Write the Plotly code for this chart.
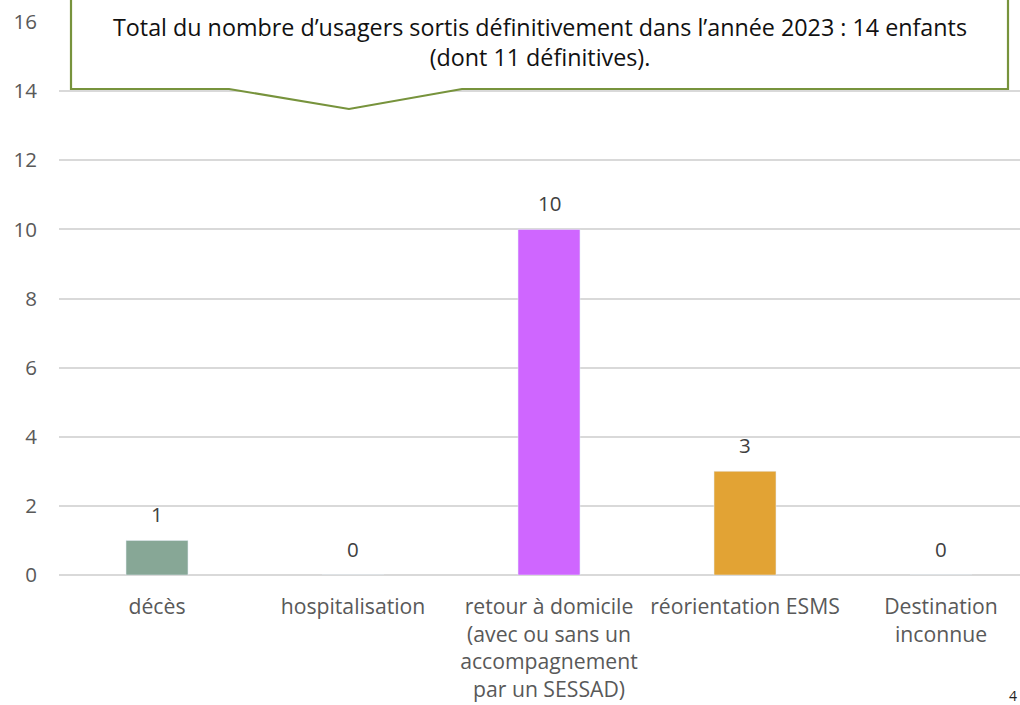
import plotly.graph_objects as go

# Destinations of children leaving the service in 2023
categories = [
    "décès",
    "hospitalisation",
    "retour à domicile<br>(avec ou sans un<br>accompagnement<br>par un SESSAD)",
    "réorientation ESMS",
    "Destination<br>inconnue",
]
values = [1, 0, 10, 3, 0]
bar_colors = ["#87A796", "#CF66FF", "#CF66FF", "#E2A334", "#E2A334"]
y_ticks = [0, 2, 4, 6, 8, 10, 12, 14, 16]
callout_text = ("Total du nombre d’usagers sortis définitivement dans l’année 2023 : 14 enfants"
                "<br>(dont 11 définitives).")

W, H = 1020, 705
L, R, T, B = 59, 0, 22, 130
PW, PH = W - L - R, H - T - B
FONT = "Open Sans"


def px_x(px):
    return (px - L) / PW


def px_y(py):
    return (H - B - py) / PH


xs = list(range(len(categories)))
fig = go.Figure(go.Bar(
    x=xs, y=values, marker_color=bar_colors, width=0.316,
    hoverinfo="skip",
))

# value labels above each bar
for i, v in enumerate(values):
    fig.add_annotation(x=i, y=v, text=str(v), showarrow=False, yanchor="bottom",
                       yshift=10, font=dict(family=FONT, size=20.5, color="#404040"))

# callout box with a downward pointer
pts = [(71, -5), (71, 89), (229, 89), (349, 109), (462, 89), (1008, 89), (1008, -5)]
path = "M " + " L ".join(f"{px_x(a):.5f},{px_y(b):.5f}" for a, b in pts) + " Z"
fig.add_shape(type="path", xref="paper", yref="paper", path=path,
              fillcolor="white", line=dict(color="#77933C", width=2.2), layer="above")
fig.add_annotation(xref="paper", yref="paper", x=px_x(540), y=px_y(41.5),
                   text=callout_text, showarrow=False, xanchor="center", yanchor="middle",
                   align="center", font=dict(family=FONT, size=23.3, color="#111111"))

# page number at the corner
fig.add_annotation(xref="paper", yref="paper", x=px_x(1019), y=px_y(695),
                   text="4", showarrow=False, xanchor="right", yanchor="middle",
                   font=dict(family=FONT, size=14, color="#222222"))

fig.update_layout(
    width=W, height=H,
    margin=dict(l=L, r=R, t=T, b=B, pad=0),
    paper_bgcolor="white", plot_bgcolor="white",
    showlegend=False,
    xaxis=dict(
        tickmode="array", tickvals=xs, ticktext=categories,
        range=[-0.5, -0.5 + PW / 196.0],
        showgrid=False, zeroline=False, showline=False, ticks="",
        tickfont=dict(family=FONT, size=21.2, color="#595959"),
        ticklabelstandoff=17, fixedrange=True,
    ),
    yaxis=dict(
        range=[0, 16], tickvals=y_ticks,
        showgrid=True, gridcolor="#D9D9D9", gridwidth=1.5,
        zeroline=True, zerolinecolor="#D9D9D9", zerolinewidth=1.5,
        showline=False, ticks="",
        tickfont=dict(family=FONT, size=20.5, color="#595959"),
        ticklabelstandoff=21, fixedrange=True,
    ),
)

fig.write_html("out.html")
